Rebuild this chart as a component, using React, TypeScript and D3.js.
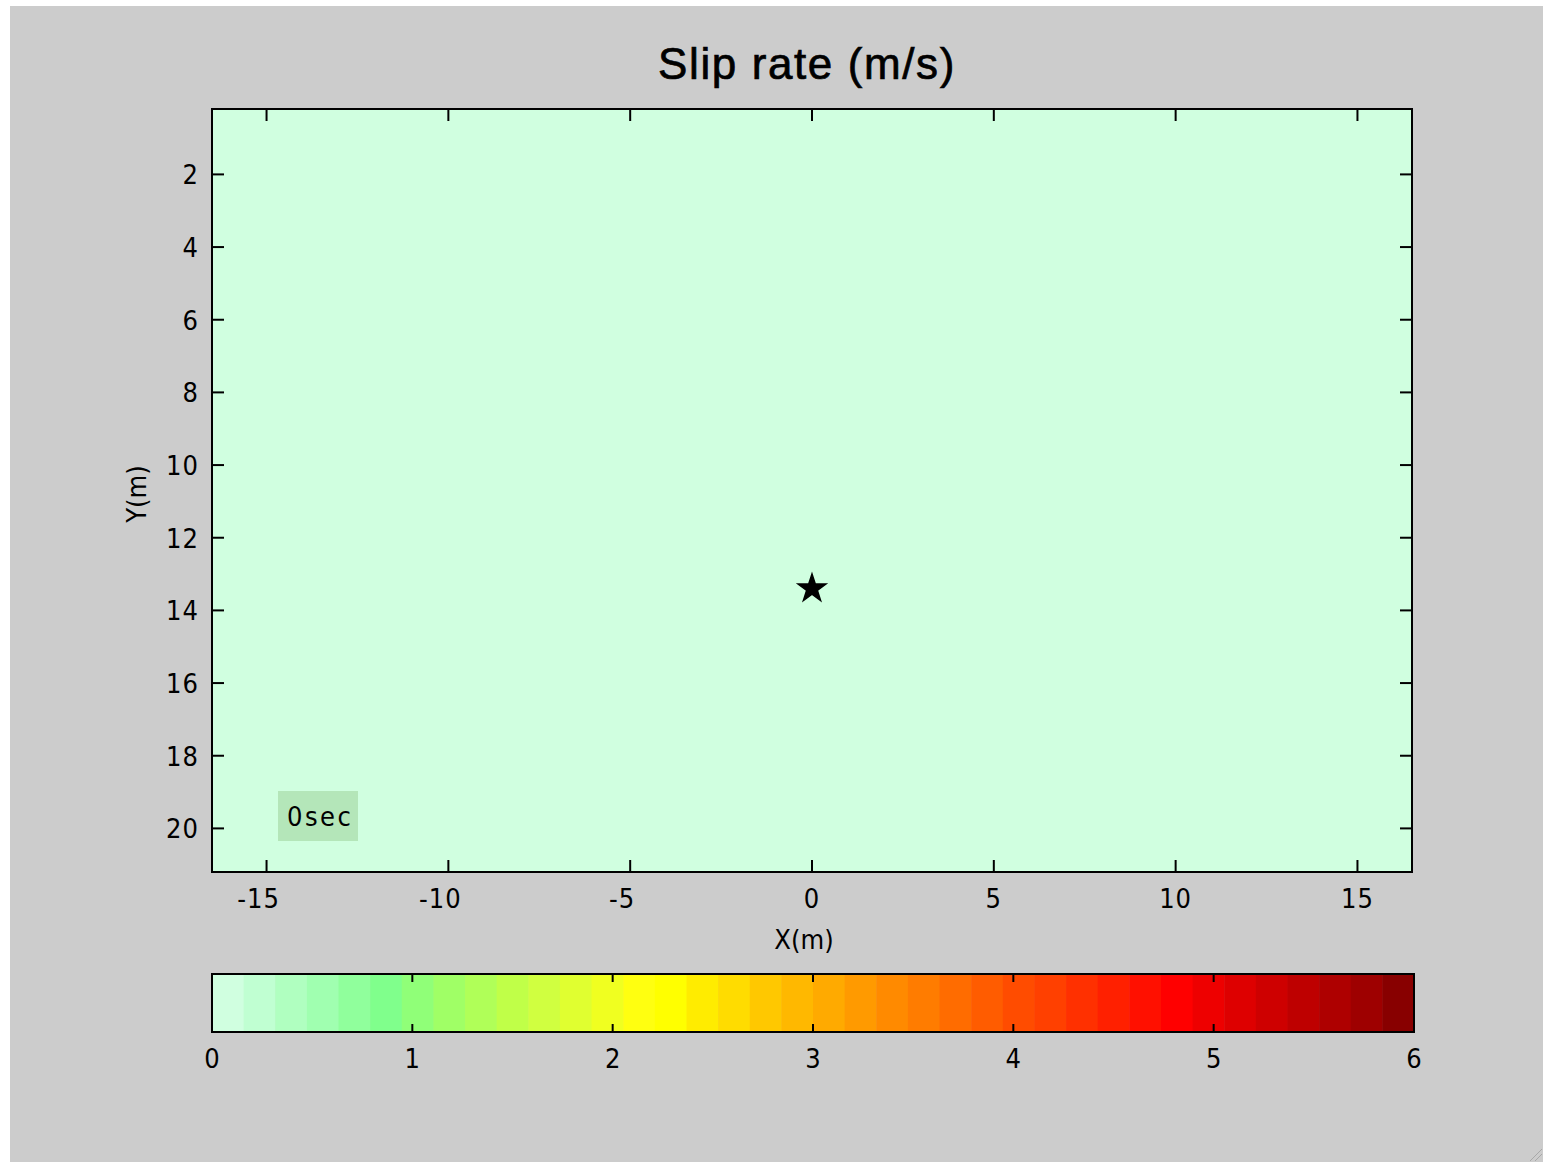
import * as d3 from "d3";
import { useEffect } from "react";

// figure data
const titleText = "Slip rate (m/s)";
const xLabelText = "X(m)";
const yLabelText = "Y(m)";
const timeLabel = "0sec";

const xDomain = [-16.5, 16.5];
const yDomain = [0.2, 21.2];
const xTicks = [-15, -10, -5, 0, 5, 10, 15];
const yTicks = [2, 4, 6, 8, 10, 12, 14, 16, 18, 20];
const cbDomain = [0, 6];
const cbTicks = [0, 1, 2, 3, 4, 5, 6];

// slip rate cells at t = 0 s (whole fault at rest)
const slipCells = [{ x0: -16.5, x1: 16.5, y0: 0.2, y1: 21.2, value: 0 }];

const hypocenter = { x: 0, y: 13.4 };

// colormap
const slipColors = [
    "#d0ffe0", "#c0ffd2", "#b0ffc0", "#a0ffb0", "#90ff9c", "#80ff8c",
    "#90ff78", "#a0ff66", "#b0ff58", "#c0ff48", "#d0ff40", "#e0ff30",
    "#f0ff20", "#ffff10", "#ffff00", "#ffec00", "#ffdc00", "#ffc800",
    "#ffb800", "#ffaa00", "#ff9a00", "#ff8a00", "#ff7c00", "#ff6c00",
    "#ff5c00", "#ff4c00", "#ff4000", "#ff3000", "#ff2000", "#ff1000",
    "#ff0000", "#ee0000", "#de0000", "#ce0000", "#be0000", "#ae0000",
    "#9e0000", "#880000"
];

const W = 1543;
const H = 1162;
const plot = { left: 212, right: 1412, top: 109, bottom: 872 };
const cb = { left: 212, right: 1414, top: 974, bottom: 1032 };
const tickLen = 12;
const tickFont = "'Liberation Sans Narrow', 'DejaVu Sans Condensed', 'Liberation Sans', sans-serif";

const App = () => {
    useEffect(() => {
        document.body.style.margin = "0";
    }, []);

    const x = d3.scaleLinear().domain(xDomain).range([plot.left, plot.right]);
    const y = d3.scaleLinear().domain(yDomain).range([plot.top, plot.bottom]);
    const color = d3.scaleQuantize<string>().domain(cbDomain).range(slipColors);
    const xc = d3.scaleLinear().domain(cbDomain).range([cb.left, cb.right]);
    const step = (cbDomain[1] - cbDomain[0]) / slipColors.length;

    const star = d3.symbol().type(d3.symbolStar).size(240)();

    return (
        <svg width={W} height={H} style={{ display: "block", background: "#ffffff" }}>
            {/* figure window */}
            <rect x={10} y={6} width={W - 10} height={H - 6} fill="#cccccc" />
            <line x1={1530} y1={1161} x2={1542} y2={1149} stroke="#a8a8a8" strokeWidth={1} />
            <line x1={1535} y1={1161} x2={1542} y2={1154} stroke="#a8a8a8" strokeWidth={1} />

            {/* title */}
            <text x={807} y={79} textAnchor="middle" fontFamily="'Liberation Sans', Arial, sans-serif"
                fontSize={44} letterSpacing={1.6} fill="#000" stroke="#000" strokeWidth={0.7}>{titleText}</text>

            {/* slip rate field */}
            {slipCells.map((c, i) => (
                <rect key={i} x={x(c.x0)} y={y(c.y0)} width={x(c.x1) - x(c.x0)} height={y(c.y1) - y(c.y0)}
                    fill={color(c.value)} />
            ))}

            {/* ticks */}
            {xTicks.map(t => (
                <g key={"xt" + t}>
                    <line x1={x(t)} x2={x(t)} y1={plot.bottom} y2={plot.bottom - tickLen} stroke="#000" strokeWidth={2} />
                    <line x1={x(t)} x2={x(t)} y1={plot.top} y2={plot.top + tickLen} stroke="#000" strokeWidth={2} />
                    <text x={x(t) + (t < 0 ? -8 : 0)} y={908} textAnchor="middle" fontFamily={tickFont}
                        fontSize={27} letterSpacing={1} fill="#000">{t < 0 ? "-" + Math.abs(t) : t}</text>
                </g>
            ))}
            {yTicks.map(t => (
                <g key={"yt" + t}>
                    <line x1={plot.left} x2={plot.left + tickLen} y1={y(t)} y2={y(t)} stroke="#000" strokeWidth={2} />
                    <line x1={plot.right} x2={plot.right - tickLen} y1={y(t)} y2={y(t)} stroke="#000" strokeWidth={2} />
                    <text x={199} y={y(t) + 10} textAnchor="end" fontFamily={tickFont}
                        fontSize={27} letterSpacing={1} fill="#000">{t}</text>
                </g>
            ))}

            <rect x={plot.left} y={plot.top} width={plot.right - plot.left} height={plot.bottom - plot.top}
                fill="none" stroke="#000" strokeWidth={2} />

            {/* time box */}
            <rect x={278} y={791} width={80} height={50} fill="#b4e6b9" />
            <text x={287} y={826} fontFamily={tickFont} fontSize={27} letterSpacing={2.5} fill="#000">{timeLabel}</text>

            {/* hypocenter */}
            <path d={star ?? ""} transform={`translate(${x(hypocenter.x)},${y(hypocenter.y)})`}
                fill="#000" stroke="#000" strokeWidth={1.5} />

            {/* axis labels */}
            <text x={804} y={949} textAnchor="middle" fontFamily={tickFont} fontSize={27} fill="#000">{xLabelText}</text>
            <text transform="translate(146,494) rotate(-90)" textAnchor="middle" fontFamily={tickFont}
                fontSize={27} fill="#000">{yLabelText}</text>

            {/* colorbar */}
            {slipColors.map((c, i) => (
                <rect key={"cb" + i} x={xc(i * step)} y={cb.top} width={xc((i + 1) * step) - xc(i * step) + 0.5}
                    height={cb.bottom - cb.top} fill={c} />
            ))}
            {cbTicks.map(t => (
                <g key={"cbt" + t}>
                    <line x1={xc(t)} x2={xc(t)} y1={cb.top} y2={cb.top + 8} stroke="#000" strokeWidth={2} />
                    <line x1={xc(t)} x2={xc(t)} y1={cb.bottom} y2={cb.bottom - 8} stroke="#000" strokeWidth={2} />
                    <text x={xc(t)} y={1068} textAnchor="middle" fontFamily={tickFont}
                        fontSize={27} fill="#000">{t}</text>
                </g>
            ))}
            <rect x={cb.left} y={cb.top} width={cb.right - cb.left} height={cb.bottom - cb.top}
                fill="none" stroke="#000" strokeWidth={2} />
        </svg>
    );
};

export default App;
